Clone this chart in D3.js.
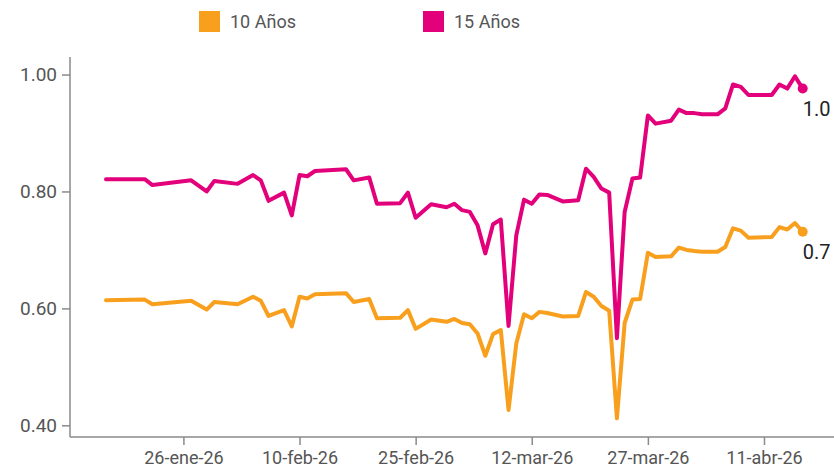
<!DOCTYPE html>
<html>
<head>
<meta charset="utf-8">
<script src="https://cdn.jsdelivr.net/npm/d3@7"></script>
<style>
  html, body { margin: 0; padding: 0; background: #fff; }
  svg { display: block; font-family: Roboto, "Noto Sans", sans-serif; }
</style>
</head>
<body>
<svg id="chart" width="834" height="469"></svg>
<script>
// ---- data ----
const dates = [
  "2026-01-16","2026-01-21","2026-01-22","2026-01-27","2026-01-29","2026-01-30",
  "2026-02-02","2026-02-04","2026-02-05","2026-02-06","2026-02-08","2026-02-09",
  "2026-02-10","2026-02-11","2026-02-12","2026-02-16","2026-02-17","2026-02-19",
  "2026-02-20","2026-02-23","2026-02-24","2026-02-25","2026-02-27","2026-03-01",
  "2026-03-02","2026-03-03","2026-03-04","2026-03-05","2026-03-06","2026-03-07",
  "2026-03-08","2026-03-09","2026-03-10","2026-03-11","2026-03-12","2026-03-13",
  "2026-03-14","2026-03-16","2026-03-18","2026-03-19","2026-03-20","2026-03-21",
  "2026-03-22","2026-03-23","2026-03-24","2026-03-25","2026-03-26","2026-03-27",
  "2026-03-28","2026-03-30","2026-03-31","2026-04-01","2026-04-02","2026-04-03",
  "2026-04-05","2026-04-06","2026-04-07","2026-04-08","2026-04-09","2026-04-12",
  "2026-04-13","2026-04-14","2026-04-15","2026-04-16"
];
const years10 = [
  0.614,0.615,0.607,0.613,0.598,0.611,
  0.607,0.620,0.613,0.587,0.597,0.569,
  0.620,0.617,0.624,0.626,0.611,0.616,
  0.583,0.584,0.597,0.565,0.581,0.577,
  0.582,0.575,0.573,0.557,0.519,0.556,
  0.563,0.426,0.540,0.590,0.583,0.594,
  0.592,0.586,0.587,0.628,0.620,0.604,
  0.596,0.412,0.575,0.615,0.616,0.695,
  0.688,0.689,0.704,0.700,0.698,0.697,
  0.697,0.705,0.737,0.733,0.721,0.722,
  0.739,0.735,0.746,0.731
];
const years15 = [
  0.821,0.821,0.811,0.819,0.800,0.818,
  0.813,0.828,0.819,0.784,0.798,0.759,
  0.828,0.826,0.835,0.838,0.819,0.824,
  0.779,0.780,0.798,0.755,0.778,0.773,
  0.779,0.768,0.765,0.742,0.694,0.744,
  0.752,0.570,0.725,0.786,0.779,0.795,
  0.794,0.783,0.785,0.839,0.825,0.805,
  0.798,0.549,0.765,0.822,0.824,0.930,
  0.916,0.921,0.940,0.934,0.934,0.932,
  0.932,0.942,0.983,0.979,0.965,0.965,
  0.983,0.976,0.997,0.976
];
const seriesNames = ["10 Años", "15 Años"];
const seriesColors = ["#F8A01E", "#E3007B"];
const xTickDates = ["2026-01-26","2026-02-10","2026-02-25","2026-03-12","2026-03-27","2026-04-11"];
const xTickLabels = ["26-ene-26","10-feb-26","25-feb-26","12-mar-26","27-mar-26","11-abr-26"];
const yTicks = [0.40, 0.60, 0.80, 1.00];
const yTickLabels = ["0.40", "0.60", "0.80", "1.00"];

// ---- layout ----
const W = 834, H = 469;
const axisLeft = 70, axisBottom = 437, axisTop = 57;
const svg = d3.select("#chart");
const parse = d3.utcParse("%Y-%m-%d");
const dateObjs = dates.map(parse);

const x = d3.scaleUtc()
  .domain([parse("2026-01-16"), parse("2026-04-16")])
  .range([106, 802.7]);
const y = d3.scaleLinear().domain([0.38, 1.03]).range([axisBottom, axisTop]);

const axisColor = "#8a8a8a";
const tickTextColor = "#555";

// y axis
const yAxis = svg.append("g").attr("transform", `translate(${axisLeft},0)`)
  .call(d3.axisLeft(y).tickValues(yTicks).tickSize(8).tickPadding(5)
    .tickFormat((d, i) => yTickLabels[i]));
yAxis.select(".domain").remove();
yAxis.append("line").attr("x1", 0).attr("x2", 0).attr("y1", axisTop).attr("y2", axisBottom)
  .attr("stroke", axisColor).attr("stroke-width", 1.5);
yAxis.selectAll(".tick line").attr("stroke", axisColor).attr("stroke-width", 1.5);
yAxis.selectAll(".tick text").attr("fill", tickTextColor)
  .style("font-size", "19px").style("font-family", "Roboto, sans-serif");

// x axis
const xAxis = svg.append("g").attr("transform", `translate(0,${axisBottom})`)
  .call(d3.axisBottom(x).tickValues(xTickDates.map(parse)).tickSize(8).tickPadding(6)
    .tickFormat((d, i) => xTickLabels[i]));
xAxis.select(".domain").remove();
xAxis.append("line").attr("x1", axisLeft).attr("x2", W).attr("y1", 0).attr("y2", 0)
  .attr("stroke", axisColor).attr("stroke-width", 1.5);
xAxis.selectAll(".tick line").attr("stroke", axisColor).attr("stroke-width", 1.5);
xAxis.selectAll(".tick text").attr("fill", tickTextColor)
  .style("font-size", "18px").style("font-family", "Roboto, sans-serif");

// lines
const seriesData = [years10, years15];
const line = d3.line().x((d, i) => x(dateObjs[i])).y(d => y(d));
seriesData.forEach((vals, s) => {
  svg.append("path").datum(vals)
    .attr("fill", "none")
    .attr("stroke", seriesColors[s])
    .attr("stroke-width", 4)
    .attr("stroke-linejoin", "round")
    .attr("stroke-linecap", "round")
    .attr("d", line);
  const last = vals.length - 1;
  svg.append("circle")
    .attr("cx", x(dateObjs[last])).attr("cy", y(vals[last]))
    .attr("r", 5).attr("fill", seriesColors[s]);
  svg.append("text")
    .attr("x", x(dateObjs[last])).attr("y", y(vals[last]) + 20)
    .attr("dy", "0.35em")
    .attr("fill", "#222")
    .style("font-size", "20px")
    .text(d3.format(".1f")(vals[last]));
});

// legend
const legendX = [199, 423];
seriesNames.forEach((name, i) => {
  const g = svg.append("g").attr("transform", `translate(${legendX[i]},11)`);
  g.append("rect").attr("width", 21).attr("height", 21).attr("fill", seriesColors[i]);
  g.append("text").attr("x", 31).attr("y", 11).attr("dy", "0.35em")
    .attr("fill", "#555").style("font-size", "18px").text(name);
});
</script>
</body>
</html>
